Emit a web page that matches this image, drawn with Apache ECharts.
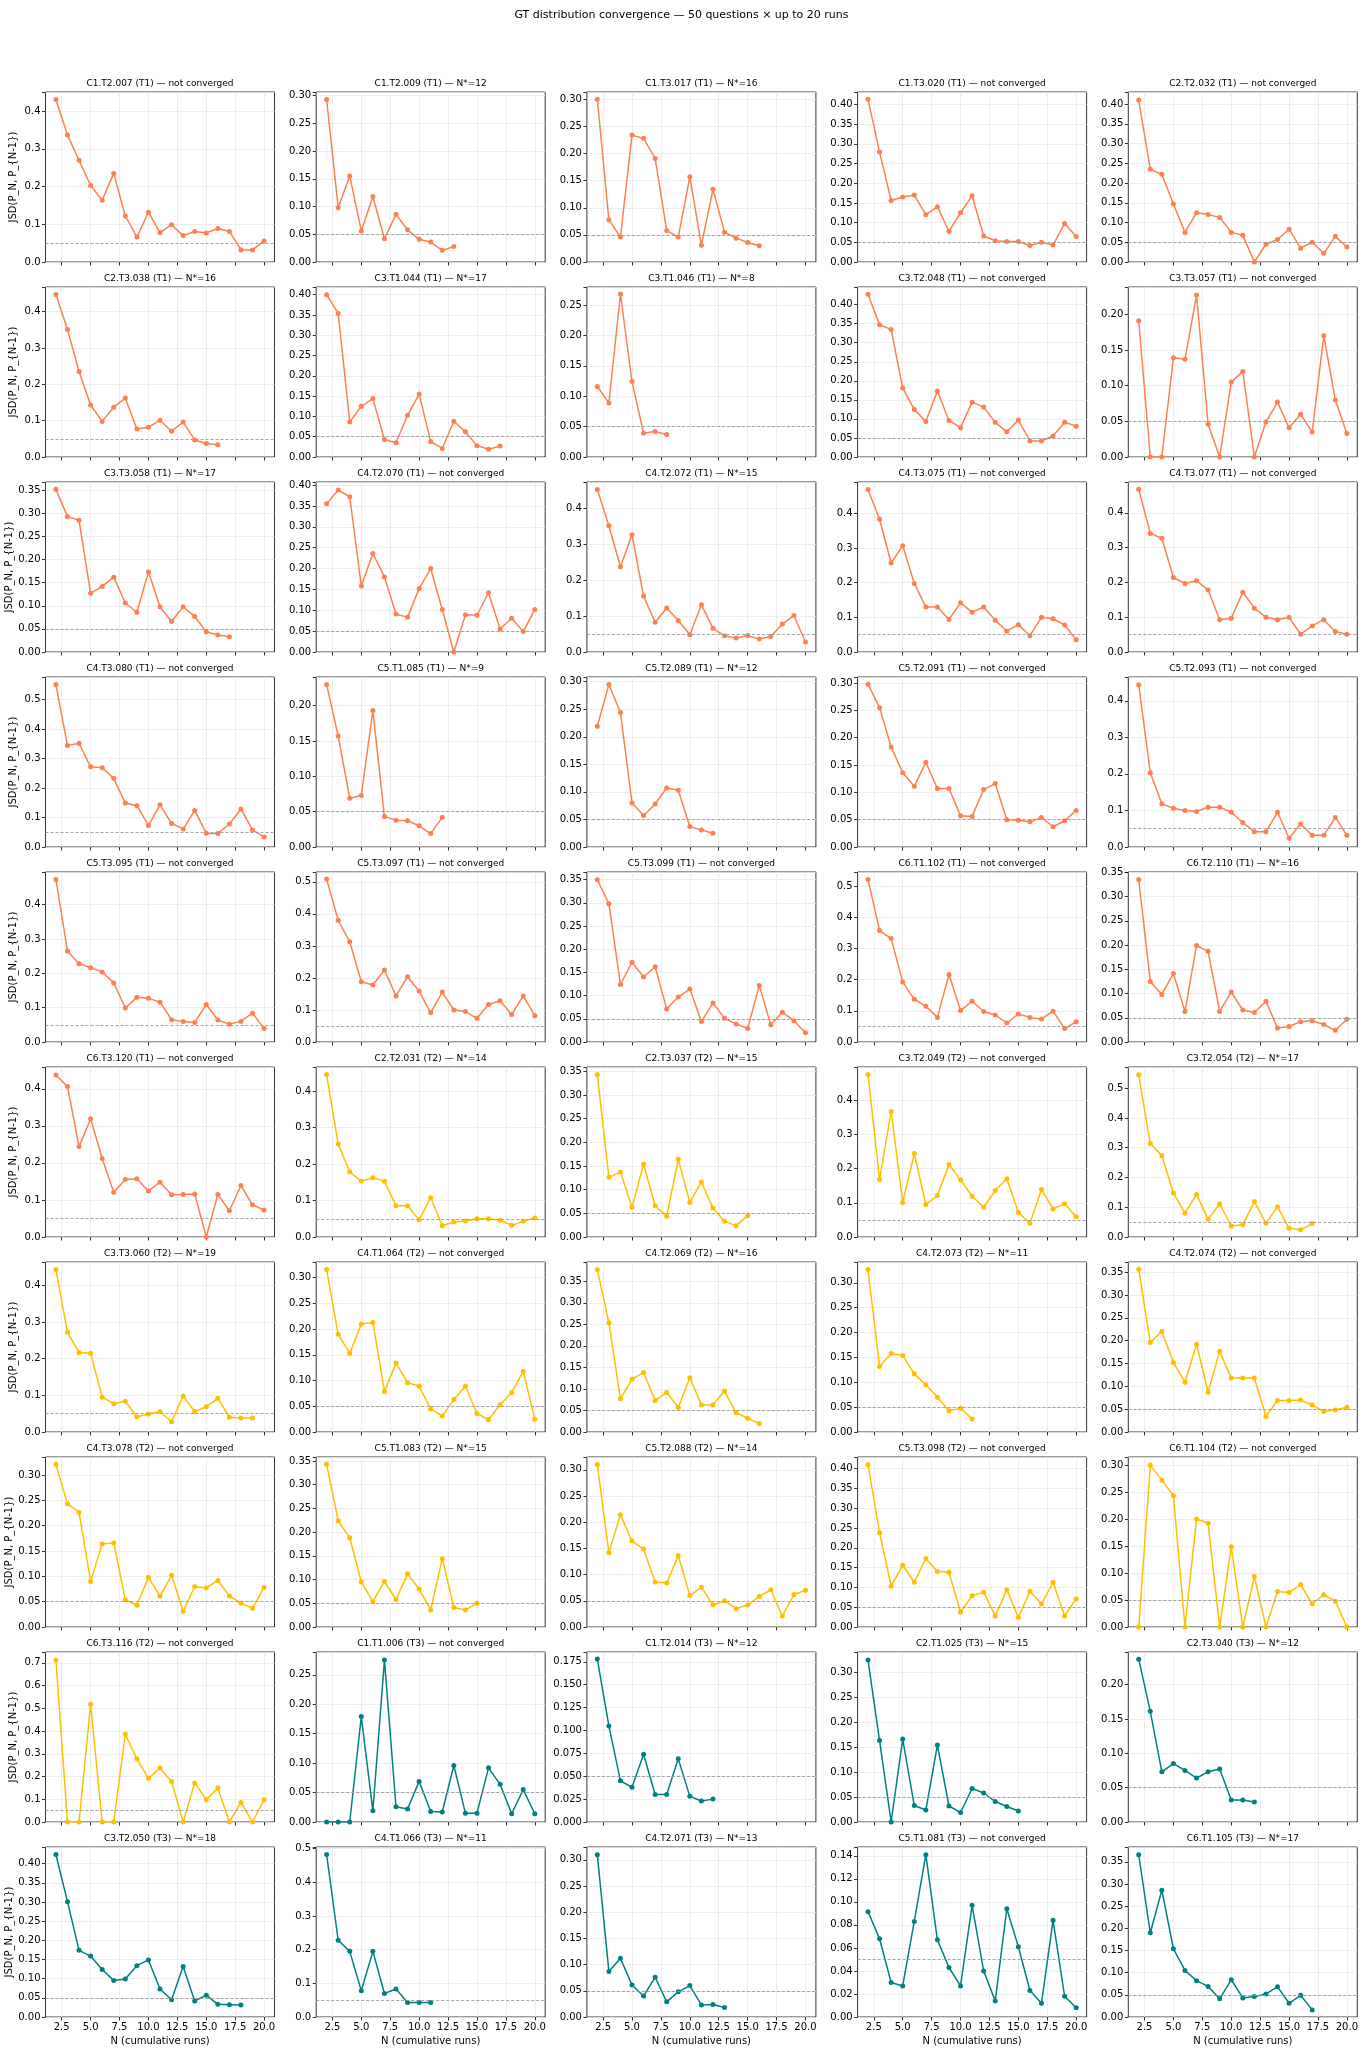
<!DOCTYPE html>
<html>
<head>
<meta charset="utf-8">
<script src="https://cdn.jsdelivr.net/npm/echarts@6/dist/echarts.min.js"></script>
<style>
  html, body { margin: 0; padding: 0; background: #fff; }
  #chart { width: 1363px; height: 2048px; }
</style>
</head>
<body>
<div id="chart"></div>
<script>
// question ids, tier and the N* where the GT distribution settled (null = not converged)
var questionIds = [
    'C1.T2.007', 'C1.T2.009', 'C1.T3.017', 'C1.T3.020', 'C2.T2.032',
    'C2.T3.038', 'C3.T1.044', 'C3.T1.046', 'C3.T2.048', 'C3.T3.057',
    'C3.T3.058', 'C4.T2.070', 'C4.T2.072', 'C4.T3.075', 'C4.T3.077',
    'C4.T3.080', 'C5.T1.085', 'C5.T2.089', 'C5.T2.091', 'C5.T2.093',
    'C5.T3.095', 'C5.T3.097', 'C5.T3.099', 'C6.T1.102', 'C6.T2.110',
    'C6.T3.120', 'C2.T2.031', 'C2.T3.037', 'C3.T2.049', 'C3.T2.054',
    'C3.T3.060', 'C4.T1.064', 'C4.T2.069', 'C4.T2.073', 'C4.T2.074',
    'C4.T3.078', 'C5.T1.083', 'C5.T2.088', 'C5.T3.098', 'C6.T1.104',
    'C6.T3.116', 'C1.T1.006', 'C1.T2.014', 'C2.T1.025', 'C2.T3.040',
    'C3.T2.050', 'C4.T1.066', 'C4.T2.071', 'C5.T1.081', 'C6.T1.105'
];
var tiers = [
    'T1', 'T1', 'T1', 'T1', 'T1', 'T1', 'T1', 'T1', 'T1', 'T1',
    'T1', 'T1', 'T1', 'T1', 'T1', 'T1', 'T1', 'T1', 'T1', 'T1',
    'T1', 'T1', 'T1', 'T1', 'T1', 'T1', 'T2', 'T2', 'T2', 'T2',
    'T2', 'T2', 'T2', 'T2', 'T2', 'T2', 'T2', 'T2', 'T2', 'T2',
    'T2', 'T3', 'T3', 'T3', 'T3', 'T3', 'T3', 'T3', 'T3', 'T3'
];
var convergedAt = [
    null, 12, 16, null, null,
    16, 17, 8, null, null,
    17, null, 15, null, null,
    null, 9, 12, null, null,
    null, null, null, null, 16,
    null, 14, 15, null, 17,
    19, null, 16, 11, null,
    null, 15, 14, null, null,
    null, null, 12, 15, 12,
    18, 11, 13, null, 17
];
// JSD(P_N, P_{N-1}) for N = 2, 3, ... per question
var jsdValues = [
    [0.431, 0.337, 0.270, 0.203, 0.164, 0.235, 0.122, 0.066, 0.132, 0.078, 0.099, 0.070, 0.081, 0.077, 0.089, 0.081, 0.032, 0.032, 0.056],
    [0.293, 0.098, 0.155, 0.056, 0.118, 0.042, 0.086, 0.058, 0.041, 0.036, 0.021, 0.028],
    [0.300, 0.078, 0.046, 0.234, 0.228, 0.191, 0.058, 0.046, 0.157, 0.031, 0.134, 0.055, 0.044, 0.036, 0.030],
    [0.413, 0.279, 0.156, 0.165, 0.170, 0.120, 0.140, 0.078, 0.125, 0.168, 0.066, 0.054, 0.052, 0.052, 0.042, 0.050, 0.043, 0.098, 0.065],
    [0.410, 0.235, 0.222, 0.147, 0.075, 0.125, 0.120, 0.113, 0.075, 0.068, 0.000, 0.045, 0.057, 0.083, 0.035, 0.050, 0.022, 0.065, 0.038],

    [0.447, 0.351, 0.235, 0.143, 0.098, 0.137, 0.162, 0.077, 0.082, 0.101, 0.071, 0.096, 0.047, 0.037, 0.034],
    [0.400, 0.354, 0.086, 0.125, 0.144, 0.043, 0.035, 0.103, 0.155, 0.038, 0.021, 0.088, 0.062, 0.028, 0.019, 0.027],
    [0.116, 0.089, 0.268, 0.124, 0.039, 0.042, 0.037],
    [0.427, 0.347, 0.335, 0.181, 0.125, 0.093, 0.173, 0.096, 0.077, 0.144, 0.131, 0.091, 0.066, 0.097, 0.042, 0.042, 0.055, 0.091, 0.081],
    [0.191, 0.000, 0.000, 0.139, 0.137, 0.227, 0.046, 0.000, 0.105, 0.120, 0.000, 0.049, 0.077, 0.041, 0.060, 0.035, 0.170, 0.080, 0.033],

    [0.352, 0.293, 0.285, 0.127, 0.142, 0.162, 0.106, 0.086, 0.173, 0.098, 0.066, 0.098, 0.077, 0.044, 0.037, 0.033],
    [0.355, 0.388, 0.372, 0.158, 0.236, 0.180, 0.091, 0.083, 0.152, 0.200, 0.102, 0.000, 0.089, 0.088, 0.142, 0.055, 0.081, 0.049, 0.102],
    [0.453, 0.352, 0.238, 0.327, 0.156, 0.083, 0.123, 0.088, 0.048, 0.132, 0.066, 0.045, 0.039, 0.046, 0.036, 0.043, 0.078, 0.102, 0.028],
    [0.469, 0.383, 0.257, 0.307, 0.198, 0.130, 0.130, 0.094, 0.142, 0.115, 0.130, 0.092, 0.060, 0.079, 0.047, 0.100, 0.096, 0.078, 0.035],
    [0.468, 0.341, 0.327, 0.214, 0.197, 0.205, 0.178, 0.093, 0.097, 0.172, 0.126, 0.100, 0.093, 0.100, 0.051, 0.075, 0.093, 0.059, 0.051],

    [0.551, 0.344, 0.352, 0.272, 0.269, 0.233, 0.149, 0.140, 0.073, 0.143, 0.080, 0.061, 0.124, 0.047, 0.046, 0.078, 0.129, 0.058, 0.034],
    [0.230, 0.157, 0.069, 0.073, 0.193, 0.043, 0.038, 0.037, 0.030, 0.019, 0.042],
    [0.219, 0.295, 0.244, 0.080, 0.057, 0.078, 0.107, 0.103, 0.037, 0.031, 0.025],
    [0.298, 0.255, 0.183, 0.136, 0.111, 0.155, 0.107, 0.107, 0.057, 0.056, 0.105, 0.116, 0.050, 0.049, 0.046, 0.054, 0.037, 0.048, 0.067],
    [0.444, 0.203, 0.118, 0.106, 0.100, 0.097, 0.109, 0.109, 0.095, 0.067, 0.042, 0.042, 0.095, 0.024, 0.063, 0.032, 0.032, 0.081, 0.032],

    [0.473, 0.265, 0.228, 0.216, 0.204, 0.172, 0.099, 0.130, 0.127, 0.116, 0.065, 0.060, 0.057, 0.109, 0.064, 0.052, 0.060, 0.084, 0.039],
    [0.509, 0.380, 0.313, 0.188, 0.178, 0.225, 0.144, 0.204, 0.159, 0.091, 0.156, 0.100, 0.095, 0.074, 0.117, 0.129, 0.086, 0.144, 0.082],
    [0.350, 0.298, 0.124, 0.172, 0.140, 0.162, 0.071, 0.097, 0.114, 0.044, 0.084, 0.051, 0.039, 0.029, 0.122, 0.037, 0.064, 0.046, 0.020],
    [0.522, 0.358, 0.332, 0.193, 0.137, 0.115, 0.079, 0.217, 0.101, 0.131, 0.098, 0.087, 0.061, 0.090, 0.079, 0.074, 0.099, 0.043, 0.065],
    [0.335, 0.125, 0.098, 0.141, 0.063, 0.199, 0.187, 0.063, 0.103, 0.066, 0.061, 0.084, 0.029, 0.032, 0.042, 0.044, 0.036, 0.024, 0.047],

    [0.437, 0.406, 0.244, 0.319, 0.212, 0.121, 0.155, 0.157, 0.124, 0.148, 0.114, 0.115, 0.116, 0.000, 0.115, 0.071, 0.139, 0.087, 0.073],
    [0.446, 0.255, 0.179, 0.153, 0.163, 0.153, 0.086, 0.086, 0.047, 0.108, 0.031, 0.041, 0.044, 0.050, 0.050, 0.046, 0.032, 0.043, 0.052],
    [0.343, 0.126, 0.137, 0.063, 0.154, 0.066, 0.044, 0.164, 0.073, 0.116, 0.061, 0.033, 0.024, 0.045],
    [0.475, 0.168, 0.367, 0.101, 0.244, 0.095, 0.121, 0.212, 0.167, 0.119, 0.087, 0.136, 0.170, 0.072, 0.040, 0.139, 0.082, 0.097, 0.059],
    [0.545, 0.314, 0.273, 0.148, 0.080, 0.143, 0.060, 0.111, 0.037, 0.041, 0.119, 0.046, 0.102, 0.029, 0.024, 0.045],

    [0.443, 0.272, 0.217, 0.215, 0.095, 0.077, 0.084, 0.041, 0.049, 0.056, 0.028, 0.098, 0.056, 0.069, 0.092, 0.040, 0.038, 0.038],
    [0.316, 0.190, 0.153, 0.210, 0.213, 0.079, 0.134, 0.096, 0.089, 0.045, 0.031, 0.063, 0.089, 0.036, 0.024, 0.053, 0.077, 0.118, 0.025],
    [0.377, 0.254, 0.077, 0.123, 0.138, 0.073, 0.092, 0.057, 0.126, 0.063, 0.063, 0.095, 0.045, 0.032, 0.020],
    [0.327, 0.132, 0.158, 0.154, 0.117, 0.095, 0.070, 0.043, 0.048, 0.026],
    [0.356, 0.196, 0.220, 0.152, 0.109, 0.192, 0.087, 0.177, 0.118, 0.118, 0.118, 0.034, 0.069, 0.069, 0.070, 0.059, 0.045, 0.048, 0.054],

    [0.321, 0.243, 0.226, 0.090, 0.164, 0.166, 0.054, 0.043, 0.098, 0.061, 0.102, 0.031, 0.080, 0.077, 0.092, 0.061, 0.047, 0.037, 0.078],
    [0.343, 0.224, 0.188, 0.095, 0.054, 0.096, 0.058, 0.112, 0.080, 0.036, 0.144, 0.041, 0.036, 0.050],
    [0.310, 0.142, 0.214, 0.164, 0.149, 0.086, 0.084, 0.136, 0.060, 0.076, 0.042, 0.050, 0.035, 0.042, 0.058, 0.071, 0.021, 0.062, 0.070],
    [0.410, 0.238, 0.103, 0.156, 0.113, 0.173, 0.140, 0.138, 0.038, 0.079, 0.088, 0.028, 0.094, 0.024, 0.090, 0.058, 0.113, 0.028, 0.071],
    [0.000, 0.301, 0.273, 0.244, 0.000, 0.201, 0.193, 0.000, 0.149, 0.000, 0.094, 0.000, 0.066, 0.064, 0.079, 0.043, 0.060, 0.048, 0.000],

    [0.712, 0.000, 0.000, 0.518, 0.000, 0.000, 0.386, 0.278, 0.192, 0.237, 0.178, 0.000, 0.172, 0.098, 0.149, 0.000, 0.086, 0.000, 0.098],
    [0.000, 0.000, 0.000, 0.179, 0.019, 0.275, 0.026, 0.022, 0.069, 0.018, 0.017, 0.096, 0.015, 0.015, 0.092, 0.064, 0.014, 0.055, 0.014],
    [0.178, 0.105, 0.045, 0.038, 0.074, 0.030, 0.030, 0.069, 0.028, 0.023, 0.025],
    [0.324, 0.163, 0.000, 0.166, 0.033, 0.024, 0.154, 0.032, 0.019, 0.067, 0.058, 0.041, 0.031, 0.022],
    [0.237, 0.161, 0.073, 0.085, 0.075, 0.064, 0.073, 0.077, 0.032, 0.032, 0.029],

    [0.424, 0.301, 0.174, 0.159, 0.124, 0.095, 0.099, 0.134, 0.149, 0.073, 0.045, 0.132, 0.042, 0.057, 0.033, 0.032, 0.031],
    [0.483, 0.228, 0.195, 0.078, 0.195, 0.070, 0.083, 0.043, 0.043, 0.043],
    [0.310, 0.087, 0.112, 0.061, 0.040, 0.076, 0.029, 0.048, 0.060, 0.023, 0.024, 0.018],
    [0.0915, 0.068, 0.030, 0.027, 0.083, 0.141, 0.067, 0.043, 0.027, 0.097, 0.040, 0.014, 0.094, 0.061, 0.023, 0.012, 0.084, 0.018, 0.008],
    [0.366, 0.190, 0.286, 0.154, 0.105, 0.082, 0.069, 0.041, 0.084, 0.043, 0.046, 0.052, 0.068, 0.031, 0.049, 0.016]
];
var firstN = 2;
var xTicks = [2.5, 5, 7.5, 10, 12.5, 15, 17.5, 20];
var threshold = 0.05;

var tierColor = { T1: '#ff7f50', T2: '#ffbf00', T3: '#008080' };
var FONT = 'DejaVu Sans';
var NCOL = 5;
var left0 = 45.5, colStep = 270.7, plotW = 229;
var top0 = 92, rowStep = 195, plotH = 170;

// matplotlib-like nice step: at most 9 intervals between 0 and the top
function niceStep(top) {
    var steps = [0.01, 0.02, 0.025, 0.05, 0.1, 0.2, 0.25, 0.5, 1];
    for (var k = 0; k < steps.length; k++) {
        if (Math.ceil(top / steps[k] - 1e-9) <= 9) return steps[k];
    }
    return 1;
}
function decimalsOf(step) {
    var s = String(step);
    return s.indexOf('.') < 0 ? 0 : s.length - s.indexOf('.') - 1;
}

var grids = [], xAxes = [], yAxes = [], series = [], graphics = [];
var nRows = Math.ceil(questionIds.length / NCOL);

questionIds.forEach(function (qid, i) {
    var row = Math.floor(i / NCOL), col = i % NCOL;
    var vals = jsdValues[i];
    var vmax = Math.max.apply(null, vals), vmin = Math.min.apply(null, vals);
    var top = vmax + 0.05 * (vmax - vmin);
    var step = niceStep(top);
    var dec = decimalsOf(step);
    var gl = left0 + col * colStep, gt = top0 + row * rowStep;
    var isBottom = row === nRows - 1;

    grids.push({
        left: gl, top: gt, width: plotW, height: plotH,
        show: true, borderColor: '#000', borderWidth: 0.8, backgroundColor: '#fff'
    });
    xAxes.push({
        gridIndex: i, type: 'value', min: 1.1, max: 20.9,
        axisLine: { show: false },
        axisTick: { show: true, customValues: xTicks, length: 3.5, lineStyle: { color: '#000', width: 0.8 } },
        axisLabel: {
            show: isBottom, customValues: xTicks, margin: 5,
            fontFamily: FONT, fontSize: 10, color: '#000',
            formatter: function (v) { return v.toFixed(1); }
        },
        splitLine: { show: true, lineStyle: { color: '#e8e8e8', width: 0.8 } },
        name: isBottom ? 'N (cumulative runs)' : '',
        nameLocation: 'middle', nameGap: 19,
        nameTextStyle: { fontFamily: FONT, fontSize: 10, color: '#000' }
    });
    yAxes.push({
        gridIndex: i, type: 'value', min: 0, max: top, interval: step,
        axisLine: { show: false },
        axisTick: { show: true, length: 3.5, lineStyle: { color: '#000', width: 0.8 } },
        axisLabel: {
            margin: 5, fontFamily: FONT, fontSize: 10, color: '#000',
            formatter: function (v) {
                var r = v / step;
                return Math.abs(r - Math.round(r)) < 1e-6 ? v.toFixed(dec) : '';
            }
        },
        splitLine: { show: true, lineStyle: { color: '#e8e8e8', width: 0.8 } },
        name: col === 0 ? 'JSD(P_N, P_{N-1})' : '',
        nameLocation: 'middle', nameGap: 27,
        nameTextStyle: { fontFamily: FONT, fontSize: 10, color: '#000' }
    });
    series.push({
        type: 'line', xAxisIndex: i, yAxisIndex: i,
        data: vals.map(function (v, k) { return [firstN + k, v]; }),
        symbol: 'circle', symbolSize: 5, showSymbol: true,
        lineStyle: { width: 1.5, color: tierColor[tiers[i]] },
        itemStyle: { color: tierColor[tiers[i]] },
        animation: false, silent: true,
        markLine: {
            silent: true, symbol: 'none', animation: false,
            label: { show: false },
            lineStyle: { type: [3, 2], color: '#9a9a9a', width: 0.9 },
            data: [{ yAxis: threshold }]
        }
    });
    var n = convergedAt[i];
    graphics.push({
        type: 'text', x: gl + plotW / 2, y: gt - 8,
        style: {
            text: qid + ' (' + tiers[i] + ') \u2014 ' + (n === null ? 'not converged' : 'N*=' + n),
            textAlign: 'center', textVerticalAlign: 'middle',
            fontFamily: FONT, fontSize: 9, fill: '#000'
        }
    });
});

var chartobj = echarts.init(document.getElementById('chart'));
var option = {
    backgroundColor: '#fff',
    animation: false,
    title: {
        text: 'GT distribution convergence \u2014 50 questions \u00d7 up to 20 runs',
        left: 'center', top: 5,
        textStyle: { fontFamily: FONT, fontSize: 11, fontWeight: 'normal', color: '#000' }
    },
    grid: grids,
    xAxis: xAxes,
    yAxis: yAxes,
    series: series,
    graphic: graphics
};
chartobj.setOption(option);
</script>
</body>
</html>
